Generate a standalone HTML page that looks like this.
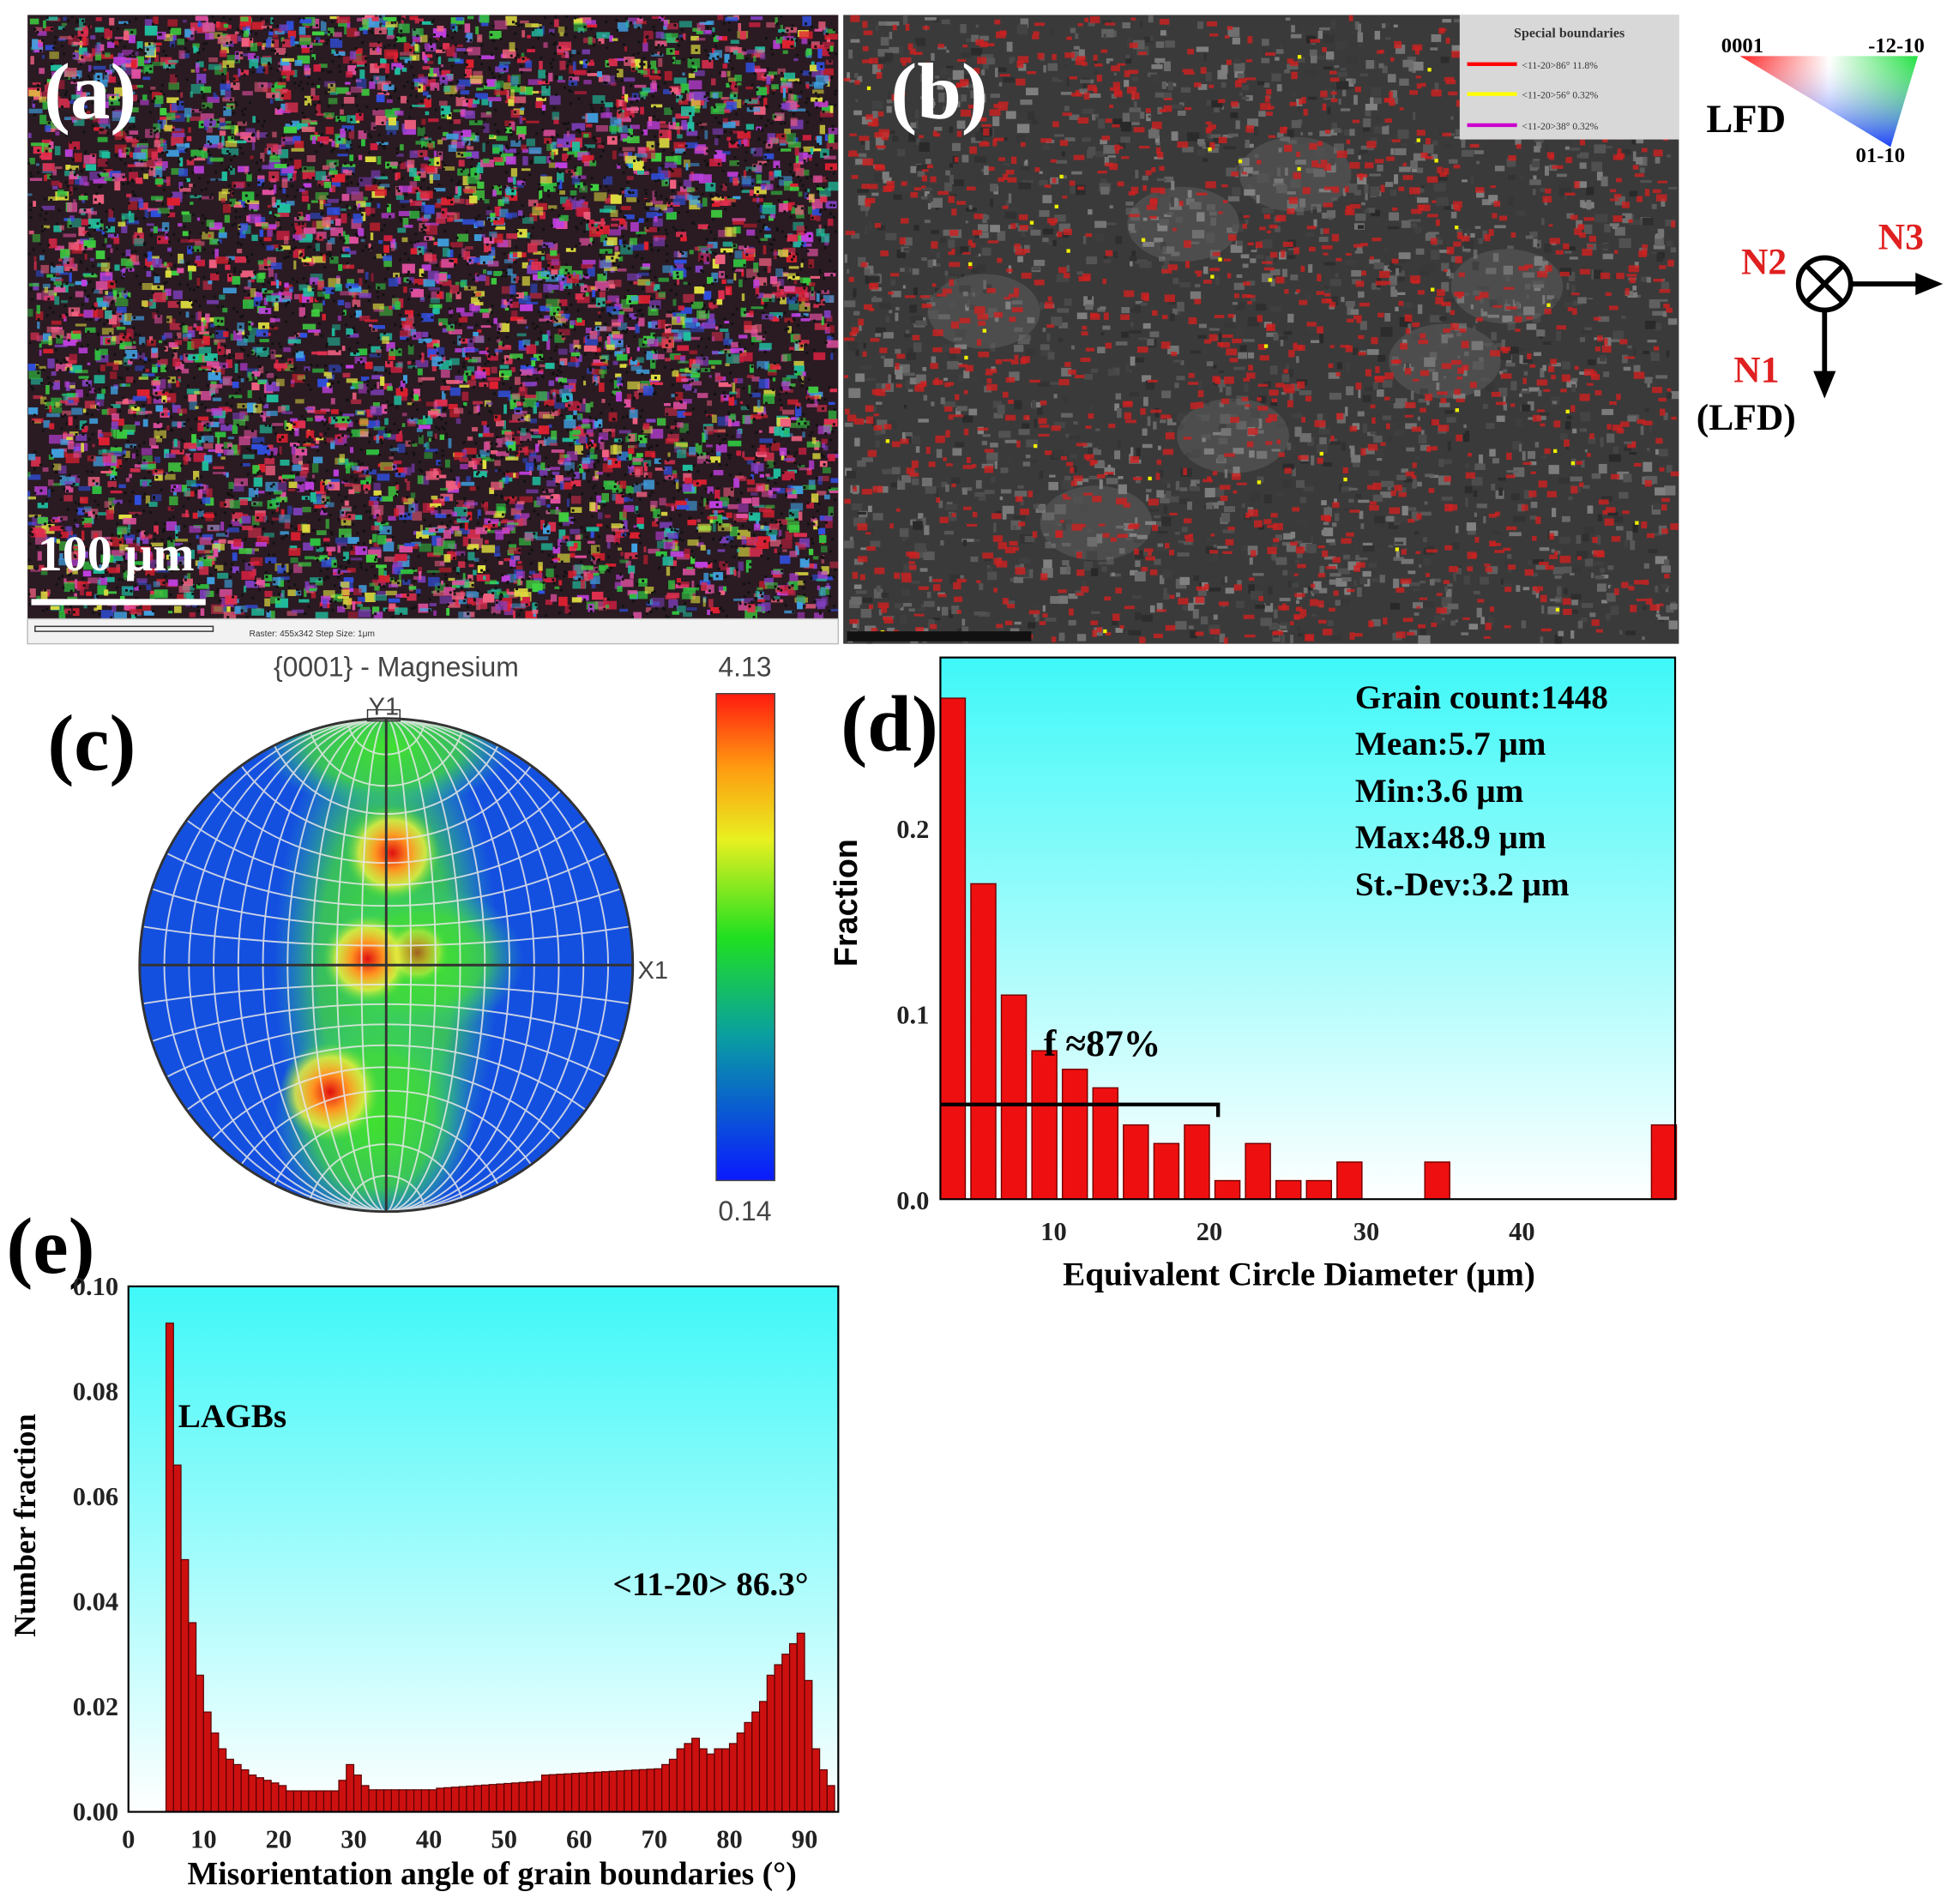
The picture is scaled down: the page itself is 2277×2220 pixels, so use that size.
<!DOCTYPE html>
<html><head><meta charset="utf-8"><style>
html,body{margin:0;padding:0;background:#fff;width:2277px;height:2220px;overflow:hidden}
svg{display:block}
text{font-family:"Liberation Serif",serif}
.s{font-family:"Liberation Sans","DejaVu Sans",sans-serif}
</style></head><body>
<svg id="S" width="2277" height="2220" viewBox="0 0 1568 1529" xmlns="http://www.w3.org/2000/svg">
<defs>
<linearGradient id="cy" x1="0" y1="0" x2="0" y2="1"><stop offset="0" stop-color="#3ff8f8"/><stop offset="1" stop-color="#ffffff"/></linearGradient>
<linearGradient id="cb" x1="0" y1="1" x2="0" y2="0">
<stop offset="0" stop-color="#0a1aff"/><stop offset="0.3" stop-color="#0aa0a0"/><stop offset="0.5" stop-color="#20e020"/><stop offset="0.7" stop-color="#e8f020"/><stop offset="0.85" stop-color="#ff9a10"/><stop offset="1" stop-color="#ff1a10"/></linearGradient>
<clipPath id="pc"><circle cx="310" cy="775" r="198"/></clipPath>
<clipPath id="ca"><rect x="22" y="12" width="651" height="485"/></clipPath>
<clipPath id="cbb"><rect x="677" y="12" width="671" height="505"/></clipPath>
<radialGradient id="hot"><stop offset="0" stop-color="#e01010"/><stop offset="0.35" stop-color="#ff9020"/><stop offset="0.7" stop-color="#f0f040" stop-opacity="0.8"/><stop offset="1" stop-color="#60e040" stop-opacity="0"/></radialGradient>
<radialGradient id="grn"><stop offset="0" stop-color="#40e030"/><stop offset="0.6" stop-color="#40d840" stop-opacity="0.8"/><stop offset="1" stop-color="#30c0a0" stop-opacity="0"/></radialGradient>
<linearGradient id="tri" x1="0" y1="0" x2="1" y2="0"><stop offset="0" stop-color="#ff2020"/><stop offset="0.5" stop-color="#ffffff"/><stop offset="1" stop-color="#20e040"/></linearGradient>
<linearGradient id="tri2" x1="0" y1="0" x2="0" y2="1"><stop offset="0" stop-color="#fff" stop-opacity="0"/><stop offset="1" stop-color="#2040ff"/></linearGradient>
</defs>
<rect width="1568" height="1529" fill="#fff"/>
<rect x="22" y="12" width="651" height="485" fill="#2a1a22"/>
<g id="ga" clip-path="url(#ca)"></g>
<rect x="22" y="497" width="651" height="20" fill="#f2f2f2" stroke="#bbb"/>
<rect x="28" y="503" width="143" height="4" fill="none" stroke="#333" stroke-width="1"/>
<text x="200" y="511" font-size="7" class="s" fill="#333">Raster: 455x342   Step Size: 1μm</text>
<rect x="25" y="481" width="140" height="5" fill="#fff"/>
<text x="30" y="458" font-size="40" font-weight="bold" fill="#fff">100 μm</text>
<text x="35" y="95" font-size="64" font-weight="bold" fill="#fff">(a)</text>
<rect x="677" y="12" width="671" height="505" fill="#3a3a3a"/>
<g id="gb" clip-path="url(#cbb)"></g>
<rect x="680" y="507" width="148" height="8" fill="#111"/>
<rect x="1172" y="12" width="176" height="100" fill="#d8d8d8"/>
<text x="1260" y="30" font-size="11" text-anchor="middle" font-weight="bold" fill="#333">Special boundaries</text>
<rect x="1178" y="50" width="40" height="3" fill="#f00"/><text x="1222" y="55" font-size="8" fill="#333">&lt;11-20&gt;86°  11.8%</text>
<rect x="1178" y="74" width="40" height="3" fill="#ff0"/><text x="1222" y="79" font-size="8" fill="#333">&lt;11-20&gt;56°  0.32%</text>
<rect x="1178" y="99" width="40" height="3" fill="#c0c"/><text x="1222" y="104" font-size="8" fill="#333">&lt;11-20&gt;38°  0.32%</text>
<text x="715" y="95" font-size="64" font-weight="bold" fill="#fff">(b)</text>
<polygon points="1397,45 1540,45 1518,118" fill="url(#tri)"/>
<polygon points="1397,45 1540,45 1518,118" fill="url(#tri2)"/>
<text x="1382" y="42" font-size="17" font-weight="bold">0001</text>
<text x="1500" y="42" font-size="17" font-weight="bold">-12-10</text>
<text x="1370" y="106" font-size="32" font-weight="bold">LFD</text>
<text x="1490" y="130" font-size="17" font-weight="bold">01-10</text>
<circle cx="1465" cy="228" r="21" fill="none" stroke="#000" stroke-width="4"/>
<path d="M1451,214L1479,242M1479,214L1451,242" stroke="#000" stroke-width="4"/>
<path d="M1486,228H1540" stroke="#000" stroke-width="4"/><polygon points="1538,219 1560,228 1538,237"/>
<path d="M1465,249V300" stroke="#000" stroke-width="4"/><polygon points="1456,298 1465,320 1474,298"/>
<text x="1398" y="220" font-size="30" font-weight="bold" fill="#e02020">N2</text>
<text x="1508" y="200" font-size="30" font-weight="bold" fill="#e02020">N3</text>
<text x="1392" y="307" font-size="30" font-weight="bold" fill="#e02020">N1</text>
<text x="1362" y="345" font-size="30" font-weight="bold">(LFD)</text>
<text x="318" y="543" font-size="22" text-anchor="middle" class="s" fill="#444">{0001} - Magnesium</text>
<text x="38" y="618" font-size="64" font-weight="bold">(c)</text>
<g clip-path="url(#pc)">
<rect x="100" y="560" width="420" height="420" fill="#1450e0"/>
<ellipse cx="310" cy="775" rx="90" ry="210" fill="url(#grn)"/>
<ellipse cx="300" cy="900" rx="80" ry="90" fill="url(#grn)"/>
<ellipse cx="340" cy="770" rx="80" ry="60" fill="url(#grn)"/>
<ellipse cx="310" cy="600" rx="100" ry="50" fill="url(#grn)"/>
<circle cx="315" cy="685" r="38" fill="url(#hot)"/>
<circle cx="295" cy="770" r="36" fill="url(#hot)"/>
<circle cx="265" cy="877" r="40" fill="url(#hot)"/>
<circle cx="335" cy="765" r="25" fill="url(#hot)" opacity="0.6"/>
<g id="grid" fill="none" stroke="#e8e8e8" stroke-width="1.3" opacity="0.85"></g>
</g>
<circle cx="310" cy="775" r="198" fill="none" stroke="#333" stroke-width="2"/>
<path d="M112,775H508M310,577V973" stroke="#333" stroke-width="2"/>
<rect x="295" y="570" width="26" height="9" fill="none" stroke="#333"/>
<text x="308" y="574" font-size="20" class="s" text-anchor="middle" fill="#444">Y1</text>
<text x="512" y="786" font-size="20" class="s" fill="#444">X1</text>
<rect x="575" y="557" width="47" height="391" fill="url(#cb)" stroke="#444"/>
<text x="598" y="543" font-size="22" class="s" text-anchor="middle" fill="#444">4.13</text>
<text x="598" y="980" font-size="22" class="s" text-anchor="middle" fill="#444">0.14</text>
<rect x="755" y="528" width="590" height="435" fill="url(#cy)"/>
<g id="gd"></g>
<rect x="755" y="528" width="590" height="435" fill="none" stroke="#000" stroke-width="1.5"/>
<path d="M755,887H978V897" stroke="#000" stroke-width="3" fill="none"/>
<text x="838" y="848" font-size="30" font-weight="bold">f ≈87%</text>
<g font-size="27" font-weight="bold">
<text x="1088" y="569">Grain count:1448</text>
<text x="1088" y="606">Mean:5.7 μm</text>
<text x="1088" y="644">Min:3.6 μm</text>
<text x="1088" y="681">Max:48.9 μm</text>
<text x="1088" y="719">St.-Dev:3.2 μm</text>
</g>
<text x="675" y="603" font-size="64" font-weight="bold">(d)</text>
<text transform="translate(688,725) rotate(-90)" font-size="26" class="s" font-weight="bold" text-anchor="middle">Fraction</text>
<g font-size="21" class="s" font-weight="bold" fill="#222" text-anchor="end">
<text x="746" y="971">0.0</text><text x="746" y="822">0.1</text><text x="746" y="673">0.2</text></g>
<g font-size="21" class="s" font-weight="bold" fill="#222" text-anchor="middle">
<text x="846" y="996">10</text><text x="971" y="996">20</text><text x="1097" y="996">30</text><text x="1222" y="996">40</text></g>
<text x="1043" y="1032" font-size="27" font-weight="bold" text-anchor="middle">Equivalent Circle  Diameter (μm)</text>
<rect x="103" y="1033" width="570" height="422" fill="url(#cy)"/>
<g id="ge"></g>
<rect x="103" y="1033" width="570" height="422" fill="none" stroke="#000" stroke-width="1.5"/>
<text x="5" y="1022" font-size="64" font-weight="bold">(e)</text>
<text x="143" y="1146" font-size="27" font-weight="bold">LAGBs</text>
<text x="492" y="1281" font-size="27" font-weight="bold">&lt;11-20&gt; 86.3°</text>
<text transform="translate(28,1225) rotate(-90)" font-size="25" font-weight="bold" text-anchor="middle">Number fraction</text>
<g font-size="21" class="s" font-weight="bold" fill="#222" text-anchor="end" id="ey"></g>
<g font-size="21" class="s" font-weight="bold" fill="#222" text-anchor="middle" id="ex"></g>
<text x="395" y="1513" font-size="26" font-weight="bold" text-anchor="middle">Misorientation angle of grain boundaries (°)</text>
</svg>
<script>
var NS="http://www.w3.org/2000/svg";
function el(p,t,a){var e=document.createElementNS(NS,t);for(var k in a)e.setAttribute(k,a[k]);p.appendChild(e);return e;}
var seed=7;function r(){seed=(seed*16807)%2147483647;return (seed-1)/2147483646;}
var ga=document.getElementById('ga');
var cols=['#e03050','#d02040','#e02030','#30c040','#40d040','#3050e0','#c040e0','#e050a0','#40a0e0','#e0e040','#20c0a0','#f06080','#8040c0'];
for(var i=0;i<5500;i++){el(ga,'rect',{x:22+r()*645,y:12+r()*480,width:2+r()*9,height:2+r()*6,fill:cols[Math.floor(r()*cols.length)],opacity:0.5+r()*0.5});}
for(var i=0;i<3500;i++){el(ga,'rect',{x:22+r()*648,y:12+r()*483,width:2,height:2,fill:'#111'});}
var gb=document.getElementById('gb');
for(var i=0;i<2500;i++){var g=Math.floor(40+r()*90);el(gb,'rect',{x:677+r()*665,y:12+r()*500,width:2+r()*8,height:2+r()*6,fill:'rgb('+g+','+g+','+g+')'});}
var bl=[[1040,140],[990,350],[950,180],[790,250],[1160,290],[1210,230],[880,420]];
bl.forEach(function(b){el(gb,'ellipse',{cx:b[0],cy:b[1],rx:45,ry:30,fill:'#888',opacity:0.25});});
for(var i=0;i<1300;i++){el(gb,'rect',{x:677+r()*665,y:12+r()*500,width:3+r()*6,height:2+r()*4,fill:'#d02020',opacity:0.8});}
for(var i=0;i<40;i++){el(gb,'rect',{x:690+r()*640,y:20+r()*490,width:3,height:3,fill:'#ee0'});}
var gr=document.getElementById('grid');var R=198,cx=310,cy=775;
for(var k=1;k<10;k++){el(gr,'ellipse',{cx:cx,cy:cy,rx:R*k/10,ry:R});}
for(var k=1;k<10;k++){var lat=k*9*Math.PI/180;var cc=R/Math.sin(lat);var rr=R/Math.tan(lat);
 el(gr,'circle',{cx:cx,cy:cy-cc,r:rr});el(gr,'circle',{cx:cx,cy:cy+cc,r:rr});}
var gd=document.getElementById('gd');
var h=[0.27,0.17,0.11,0.08,0.07,0.06,0.04,0.03,0.04,0.01,0.03,0.01,0.01,0.02];
function bd(x,v){el(gd,'rect',{x:x,y:963-v*1490,width:20,height:v*1490,fill:'#ee1010',stroke:'#700',"stroke-width":1});}
h.forEach(function(v,i){bd(755+i*24.5,v);});bd(1144,0.02);bd(1326,0.04);
var ge=document.getElementById('ge');
var d={5:.093,6:.066,7:.048,8:.036,9:.026,10:.019,11:.015,12:.012,13:.010,14:.009,15:.008,16:.007,17:.0065,18:.006,19:.0055,20:.005,28:.006,29:.009,30:.007,31:.005,71:.009,72:.010,73:.012,74:.013,75:.014,76:.012,77:.011,78:.012,79:.012,80:.013,81:.015,82:.017,83:.019,84:.021,85:.026,86:.028,87:.030,88:.032,89:.034,90:.025,91:.012,92:.008,93:.005};
for(var a=5;a<=93;a++){var v=d[a];if(v===undefined){if(a<28)v=0.004;else if(a<41)v=0.0042;else if(a<55)v=0.0045+(a-41)*0.0001;else v=0.007+(a-55)*0.00008;}
 el(ge,'rect',{x:103+a*6.033,y:1455-v*4220,width:6.03,height:v*4220,fill:'#cc1010',stroke:'#500',"stroke-width":0.8});}
var ey=document.getElementById('ey');
['0.00','0.02','0.04','0.06','0.08','0.10'].forEach(function(t,i){var e=el(ey,'text',{x:95,y:1462-i*84.4});e.textContent=t;});
var ex=document.getElementById('ex');
for(var i=0;i<=9;i++){var e=el(ex,'text',{x:103+i*60.33,y:1484});e.textContent=String(i*10);}
</script>
</body></html>
